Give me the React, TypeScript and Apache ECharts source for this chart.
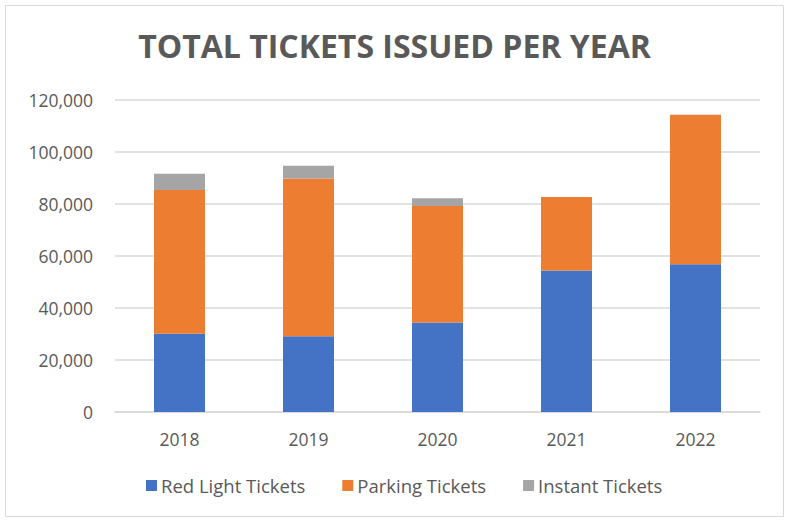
import React, { useEffect, useRef } from "react";
import * as echarts from "echarts";

const categories = ["2018", "2019", "2020", "2021", "2022"];
const redLight = [30100, 29100, 34400, 54400, 56800];
const parking = [55300, 60700, 44800, 28300, 57500];
const instant = [6200, 4900, 3000, 0, 0];
const yTicks = [0, 20000, 40000, 60000, 80000, 100000, 120000];

const FONT = "'Open Sans', sans-serif";
const TXT = "#595959";

export default function App() {
  const ref = useRef<HTMLDivElement>(null);
  useEffect(() => {
    if (!ref.current) return;
    const chart = echarts.init(ref.current, undefined, { renderer: "svg" });
    const bar = (name: string, data: number[], color: string) => ({
      name,
      type: "bar",
      stack: "t",
      data,
      barWidth: 51,
      itemStyle: { color },
    });
    chart.setOption({
      animation: false,
      backgroundColor: "#ffffff",
      textStyle: { fontFamily: FONT },
      title: {
        text: "TOTAL TICKETS ISSUED PER YEAR",
        left: "center",
        top: 24,
        textStyle: { fontFamily: FONT, fontSize: 32, fontWeight: "bold", color: TXT },
      },
      graphic: [
        {
          type: "rect",
          shape: { x: 5.5, y: 5.5, width: 778, height: 511 },
          style: { fill: "none", stroke: "#D9D9D9", lineWidth: 1 },
          silent: true,
        },
      ],
      legend: {
        bottom: 21,
        left: 141,
        itemWidth: 11,
        itemHeight: 11,
        itemGap: 37,
        icon: "rect",
        textStyle: { fontFamily: FONT, fontSize: 18.5, color: TXT, padding: [0, 0, 0, -1] },
        data: ["Red Light Tickets", "Parking Tickets", "Instant Tickets"],
      },
      grid: { left: 115, right: 29, top: 100, bottom: 109, containLabel: false },
      xAxis: {
        type: "category",
        data: categories,
        axisLine: { lineStyle: { color: "#D9D9D9", width: 1.5 } },
        axisTick: { show: false },
        axisLabel: { fontFamily: FONT, fontSize: 17.5, color: TXT, margin: 18 },
      },
      yAxis: {
        type: "value",
        min: yTicks[0],
        max: yTicks[yTicks.length - 1],
        interval: 20000,
        axisLine: { show: false },
        axisTick: { show: false },
        splitLine: { lineStyle: { color: "#D9D9D9", width: 1.5 } },
        axisLabel: {
          fontFamily: FONT,
          fontSize: 17.5,
          color: TXT,
          margin: 22,
          formatter: (v: number) => v.toLocaleString("en-US"),
        },
      },
      series: [
        bar("Red Light Tickets", redLight, "#4472C4"),
        bar("Parking Tickets", parking, "#ED7D31"),
        bar("Instant Tickets", instant, "#A5A5A5"),
      ],
    });
    return () => chart.dispose();
  }, []);
  return (
    <div
      ref={ref}
      style={{ position: "absolute", left: 0, top: 0, width: 789, height: 521 }}
    />
  );
}
